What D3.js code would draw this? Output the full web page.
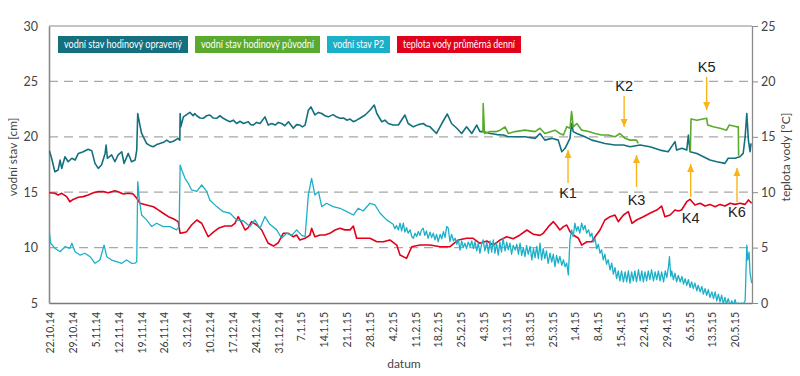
<!DOCTYPE html>
<html>
<head>
<meta charset="utf-8">
<script src="https://cdn.jsdelivr.net/npm/d3@7"></script>
<style>
  body { margin: 0; background: #fff; }
  svg { display: block; font-family: Lato, "Noto Sans", sans-serif; }
</style>
</head>
<body>
<svg id="chart"></svg>
<script>
// day offsets are counted from 22.10.2014
const startDate = Date.UTC(2014, 9, 22);
const xDomainDays = [-0.3, 215.2];
const tickEndDay = 210;
const leftTicks = [5, 10, 15, 20, 25, 30];
const rightTicks = [0, 5, 10, 15, 20, 25];
const gridTicks = [10, 15, 20, 25];

const legendNames = ['vodní stav hodinový opravený', 'vodní stav hodinový původní', 'vodní stav P2', 'teplota vody průměrná denní'];
const legendColors = ['#14707f', '#5aab2d', '#1bb0c8', '#e2001a'];

// vodní stav hodinový opravený [cm]
const opravenyData = [
  [-0.2,18.75],[0.5,18.06],[1.5,16.85],[2.5,17.0],[3.1,17.9],[3.6,17.15],[4.6,18.2],[5.6,17.75],[6.7,18.06],[7.7,17.9],
  [8.7,18.5],[10.2,18.65],[11.7,18.87],[12.8,18.75],[13.8,17.6],[14.8,17.15],[15.8,17.45],[16.9,18.5],[17.2,19.26],[17.6,18.06],
  [18.9,18.36],[19.9,17.75],[20.9,18.36],[22.0,18.65],[22.7,17.6],[24.0,18.5],[25.0,17.75],[26.1,17.9],[26.6,18.8],[26.9,22.1],
  [27.6,21.0],[28.1,20.3],[29.6,19.4],[30.7,19.2],[31.7,19.1],[32.7,19.3],[33.7,19.4],[34.8,19.5],[35.8,19.7],[36.8,19.5],[37.8,19.6],[39.3,19.86],[39.8,19.7],
  [39.9,22.1],[40.1,20.9],[40.9,21.8],[41.9,22.0],[42.9,22.2],[43.9,21.9],[44.4,22.1],[45.0,21.9],[46.0,21.7],[47.0,21.67],[48.0,21.9],[49.0,21.97],[50.0,21.7],[51.1,21.67],[52.1,21.9],[53.1,21.67],[54.2,21.5],[55.2,21.36],
  [56.2,21.5],[57.2,21.2],[58.3,21.4],[59.3,21.2],[60.8,21.36],[61.5,21.1],[62.3,21.06],[63.3,21.3],[64.4,21.2],[65.9,21.8],[66.9,21.06],[68.0,21.2],[69.0,21.06],[70.0,21.3],[71.0,21.2],[72.0,21.0],[73.1,21.36],
  [74.6,20.77],[75.6,21.1],[76.6,21.06],[77.4,20.9],[78.2,21.06],[79.2,22.4],[80.0,22.7],[81.2,21.97],[82.3,22.2],[83.3,22.1],[84.3,21.9],[85.3,21.8],[86.8,22.0],[87.8,21.8],[88.9,21.67],
  [90.0,21.7],[91.0,21.5],[92.0,21.6],[93.0,21.36],[94.0,21.5],[95.0,21.67],[96.6,21.97],[98.1,22.4],[99.4,22.87],[100.2,22.1],[101.7,21.36],[102.7,21.5],[103.7,21.2],[105.2,21.06],
  [106.8,21.06],[108.8,21.97],[109.8,21.2],[111.4,20.9],[112.9,21.1],[114.4,21.2],[115.4,21.0],[116.5,20.9],[118.5,20.3],[120.1,21.2],[121.8,22.06],[123.1,21.2],
  [124.7,20.77],[126.2,20.3],[127.7,20.9],[129.3,20.3],[130.8,21.06],[131.8,20.47],[132.8,20.47],[134.9,20.3],[137.0,20.2],[139.0,20.16],[140.5,20.0],
  [142.6,20.0],[145.6,20.0],[148.7,19.86],[150.2,20.3],[151.7,19.7],[153.8,19.86],[155.8,19.7],[156.9,18.65],[157.9,18.96],[159.4,19.86],
  [159.9,21.2],[160.4,20.47],[161.5,20.3],[164.0,20.0],[166.1,19.7],[168.1,19.56],[170.1,19.4],[173.2,19.26],[175.8,19.26],[177.8,19.1],
  [180.9,19.26],[183.9,19.1],[187.0,18.8],[189.5,18.65],[191.6,19.56],[192.1,18.8],[193.7,18.96],[195.2,18.8],[195.7,20.16],[196.2,18.65],
  [198.3,18.5],[200.3,18.2],[202.3,17.9],[204.4,17.75],[206.9,17.6],[207.9,18.06],[210.0,18.06],[211.5,18.2],[212.5,18.5],[213.1,20.0],
  [213.6,22.1],[214.1,19.7],[214.6,18.65],[214.9,19.4]
];

// vodní stav hodinový původní [cm], null = přerušení
const puvodniData = [
  [132.7,20.4],[132.8,23.0],[133.2,20.3],[134.9,20.47],[136.9,20.47],[138.0,20.6],[139.5,20.9],[140.5,20.3],[142.6,20.47],[145.6,20.6],
  [148.7,20.47],[150.2,20.77],[151.7,20.3],[154.8,20.6],[156.3,20.3],[157.4,20.16],[158.4,20.9],[159.4,20.77],[159.9,22.27],[160.4,20.9],
  [161.5,21.2],[163.0,20.6],[165.1,20.47],[167.1,20.3],[169.1,20.16],[171.1,20.16],[173.2,20.0],[174.7,20.3],[176.3,19.86],[177.8,19.7],
  [179.8,19.7],[180.3,19.4],[180.4,null],
  [196.3,18.7],[196.5,21.6],[198.3,21.5],[201.3,21.67],[201.6,21.06],[203.3,20.9],[205.4,20.77],[207.4,20.6],[208.2,21.06],[210.5,20.9],
  [211.0,20.9],[211.1,18.3]
];

// vodní stav P2 [cm]
const p2Data = [
  [-0.2,11.44],[0.2,10.4],[1.5,9.94],[3.1,9.63],[4.6,10.08],[6.1,9.94],[6.7,10.4],[7.7,9.63],[9.2,9.33],[10.7,9.49],
  [12.3,9.18],[13.8,8.58],[15.3,8.88],[16.6,10.23],[17.4,9.18],[18.9,8.88],[20.4,8.73],[22.0,8.58],[23.5,8.88],[25.0,8.58],
  [26.1,8.6],[26.6,8.73],[26.9,15.95],[27.4,14.3],[28.1,12.94],[29.6,12.5],[31.2,11.9],[32.7,12.2],[34.7,11.9],[36.8,11.9],
  [38.8,11.6],[39.6,11.9],[39.9,17.45],[40.4,17.0],[41.4,16.25],[42.4,15.8],[43.4,15.2],[45.0,15.07],[46.5,15.65],[48.0,15.1],
  [49.0,14.3],[51.1,13.7],[53.1,13.24],[55.2,13.1],[57.2,12.5],[59.3,12.4],[61.3,11.9],[62.8,12.5],[64.4,11.74],[65.9,12.8],
  [67.4,12.1],[69.5,11.6],[71.0,10.84],[72.6,11.3],[74.1,11.1],[75.6,11.6],[77.2,11.1],[78.2,10.98],[79.2,14.75],[80.2,16.25],
  [81.2,14.75],[82.3,15.05],[83.3,13.7],[84.8,14.0],[86.8,13.7],[88.9,13.55],[91.0,13.24],[93.0,12.94],[94.5,13.55],[96.0,13.3],
  [98.1,14.0],[99.6,13.85],[101.2,13.1],[103.2,12.5],[105.2,12.1],[105.7,11.7],[106.2,12.0],[106.8,11.6],[107.3,12.2],[107.8,11.5],
  [108.3,12.2],[108.8,11.4],[109.3,11.8],[109.8,11.3],[110.4,11.6],[110.9,11.0],[111.4,10.84],[111.9,11.3],[112.4,11.0],[112.9,11.45],
  [113.4,11.1],[113.9,11.6],[114.4,11.75],[114.9,11.1],[115.4,11.5],[115.9,10.84],[116.5,11.4],[117.0,10.9],[117.5,11.3],[118.0,10.7],
  [118.5,11.2],[119.0,10.53],[119.6,11.2],[120.1,10.8],[120.6,11.45],[121.1,10.9],[121.6,11.9],[122.1,11.75],[122.6,10.53],[123.1,11.2],
  [123.7,10.6],[124.2,10.84],[124.7,10.3],[125.2,10.7],[125.7,9.78],[126.2,10.6],[126.7,10.0],[127.2,10.4],[127.7,9.9],[128.2,10.5],
  [128.8,10.1],[129.3,10.6],[129.8,9.9],[130.3,10.53],[130.8,9.7],[131.3,10.4],[131.8,9.49],[132.3,10.3],[132.8,10.7],[133.3,9.7],
  [133.9,10.5],[134.4,9.49],[134.9,10.6],[135.4,9.6],[135.9,10.7],[136.4,9.5],[136.9,10.4],[137.4,9.33],[137.9,10.5],[138.4,9.6],
  [138.9,10.84],[139.5,9.7],[140.0,10.5],[140.5,9.8],[141.0,10.4],[141.5,9.4],[142.0,10.2],[142.6,9.78],[143.1,10.3],[143.6,9.4],
  [144.1,10.4],[144.6,9.3],[145.1,10.0],[145.6,9.18],[146.1,10.2],[146.6,9.4],[147.2,10.1],[147.7,8.88],[148.2,9.9],[148.7,9.1],
  [149.2,10.1],[149.7,9.0],[150.2,10.4],[150.7,8.88],[151.2,9.9],[151.7,9.0],[152.2,9.7],[152.7,8.58],[153.3,9.5],[153.8,8.7],
  [154.3,9.4],[154.8,8.28],[155.3,9.3],[155.8,8.6],[156.3,9.2],[156.9,8.4],[157.4,8.9],[157.9,8.28],[158.4,8.6],[158.9,7.53],
  [159.4,10.7],[159.9,11.6],[160.4,11.0],[160.9,12.2],[161.4,11.5],[161.9,11.9],[162.4,11.3],[163.0,12.2],[163.5,11.6],[164.0,12.0],
  [164.5,11.3],[165.1,11.6],[165.6,11.0],[166.1,11.3],[166.6,10.5],[167.1,10.8],[167.6,9.9],[168.1,10.3],[168.6,9.5],[169.1,9.8],
  [169.6,8.9],[170.1,9.4],[170.6,8.5],[171.1,8.9],[171.7,8.0],[172.2,8.6],[172.7,7.6],[173.2,8.2],[173.7,7.2],[174.2,7.9],
  [174.7,7.0],[175.2,7.9],[175.8,6.9],[176.3,7.8],[176.8,6.9],[177.3,7.9],[177.8,6.8],[178.3,7.8],[178.8,7.0],[179.3,7.9],
  [179.8,6.9],[180.4,8.0],[180.9,7.0],[181.4,7.9],[181.9,6.9],[182.4,7.8],[182.9,7.0],[183.4,7.9],[183.9,7.1],[184.4,8.0],
  [185.0,7.0],[185.5,7.8],[186.0,7.1],[186.5,7.9],[187.0,7.0],[187.5,7.8],[188.1,6.9],[188.6,7.9],[189.1,7.3],[189.6,8.3],
  [189.9,9.18],[190.3,7.4],[190.6,7.9],[191.1,7.1],[191.6,7.7],[192.1,6.9],[192.6,7.5],[193.2,6.9],[193.7,7.4],[194.2,6.7],
  [194.7,7.2],[195.2,6.6],[195.7,7.1],[196.2,6.4],[196.7,6.9],[197.2,6.3],[197.7,6.8],[198.3,6.1],[198.7,6.6],[199.3,6.0],
  [199.8,6.5],[200.3,5.8],[200.8,6.3],[201.3,5.7],[201.8,6.2],[202.3,5.5],[202.9,6.0],[203.4,5.4],[203.9,6.0],[204.4,5.2],
  [204.9,5.8],[205.4,5.1],[205.9,5.7],[206.4,4.9],[206.9,5.5],[207.4,4.9],[207.9,5.4],[208.5,4.8],[209.0,5.2],[209.5,4.8],
  [210.0,5.3],[210.5,4.8],[211.0,5.0],[211.5,4.8],[212.0,5.0],[212.5,4.9],[213.1,5.2],[213.6,10.23],[213.9,8.88],[214.3,9.6],
  [214.6,7.7],[215.1,6.8]
];

// teplota vody průměrná denní [°C]
const teplotaData = [
  [-0.2,9.95],[1.5,9.9],[2.5,9.75],[3.6,9.9],[5.1,9.6],[6.1,9.14],[7.1,9.35],[8.7,9.54],[10.2,9.6],[11.7,9.75],
  [13.3,9.95],[14.8,10.05],[16.3,10.05],[17.9,9.95],[19.9,10.14],[20.9,10.05],[22.5,9.84],[24.0,9.9],[25.5,9.84],[26.6,9.45],
  [27.6,9.0],[29.6,8.85],[31.7,8.69],[33.2,8.4],[34.7,8.1],[36.3,7.79],[37.8,7.6],[39.3,7.34],[39.9,6.29],[40.9,6.35],
  [41.9,6.44],[43.4,7.04],[45.0,7.49],[46.5,7.2],[47.5,6.59],[48.5,5.98],[50.1,6.4],[51.6,6.74],[53.6,6.95],[55.7,6.95],
  [56.7,7.19],[57.7,7.79],[58.8,7.2],[59.8,6.59],[60.8,6.8],[61.8,7.34],[63.4,7.04],[64.9,6.59],[65.9,5.98],[66.9,5.39],
  [68.5,5.14],[70.0,5.44],[71.5,6.29],[73.1,6.29],[74.6,5.98],[75.6,6.14],[76.6,5.69],[78.2,5.84],[79.7,6.14],[80.2,6.74],
  [81.2,5.98],[82.8,6.14],[84.3,6.14],[85.8,6.29],[87.4,6.59],[88.9,6.74],[90.4,6.6],[92.0,6.6],[93.0,6.95],[94.0,5.84],
  [96.0,5.84],[98.1,5.84],[100.2,5.53],[102.2,5.53],[104.2,5.69],[106.3,5.23],[107.3,4.33],[109.3,4.03],[110.9,5.08],[113.4,5.23],
  [116.5,5.23],[119.6,5.08],[122.6,5.08],[125.2,5.69],[127.7,5.84],[129.7,5.84],[131.8,5.39],[133.9,5.6],[135.9,5.23],[138.0,5.69],
  [140.0,5.98],[142.0,5.8],[144.1,6.14],[146.2,6.59],[148.2,6.2],[150.2,6.1],[151.2,6.29],[152.8,6.89],[154.3,7.34],[155.3,7.0],
  [156.3,6.59],[157.4,6.89],[158.4,7.04],[159.4,6.44],[160.4,6.14],[162.0,5.84],[163.0,5.23],[164.6,5.53],[166.1,5.53],[167.1,5.98],
  [168.6,6.59],[170.1,7.49],[171.7,7.79],[173.2,7.94],[174.2,7.34],[175.8,7.94],[177.3,8.24],[178.4,7.19],[179.8,7.49],[181.9,7.79],
  [183.9,8.1],[186.0,8.39],[187.5,8.75],[188.5,7.79],[190.1,7.94],[191.6,8.39],[192.6,8.3],[193.6,8.39],[195.2,9.14],[196.2,9.36],
  [197.7,8.85],[199.3,9.0],[200.8,8.75],[202.3,8.9],[203.9,8.69],[205.4,8.9],[206.9,8.75],[208.5,9.0],[210.0,8.9],[211.5,9.0],
  [213.1,8.9],[214.1,9.3],[215.1,9.0]
];

// anotace K1..K6: den, hrot šipky, konec šipky, účaří popisku (vše v cm levé osy)
const annoLabels = ['K1', 'K2', 'K3', 'K4', 'K5', 'K6'];
const annoDays = [158.8, 176.0, 179.8, 196.4, 201.3, 210.6];
const annoTip = [18.8, 20.88, 18.36, 17.55, 22.42, 17.18];
const annoTail = [15.83, 23.68, 15.47, 14.57, 25.4, 14.12];
const annoText = [14.48, 24.16, 13.84, 12.22, 25.85, 12.79];

const W = 800, H = 376;
const margin = { top: 26, right: 48, bottom: 73, left: 49 };
const innerW = W - margin.left - margin.right;
const innerH = H - margin.top - margin.bottom;

const toDate = d => new Date(startDate + d * 86400000);

const svg = d3.select('#chart').attr('width', W).attr('height', H);
const chart = svg.append('g').attr('transform', `translate(${margin.left},${margin.top})`);

const x = d3.scaleUtc().domain(xDomainDays.map(toDate)).range([0, innerW]);
const yLeft = d3.scaleLinear().domain([5, 30]).range([innerH, 0]);
const yRight = d3.scaleLinear().domain([0, 25]).range([innerH, 0]);

// mřížka
chart.append('g').selectAll('line')
  .data(gridTicks)
  .join('line')
  .attr('x1', 0).attr('x2', innerW)
  .attr('y1', d => yLeft(d)).attr('y2', d => yLeft(d))
  .attr('stroke', '#a8a8a8')
  .attr('stroke-width', 1.2)
  .attr('stroke-dasharray', '9,6');

// horní rámeček
chart.append('line')
  .attr('x1', 0).attr('x2', innerW).attr('y1', 0).attr('y2', 0)
  .attr('stroke', '#8a8a8a').attr('stroke-width', 1);

// osy
const weekTicks = d3.range(0, tickEndDay + 1, 7).map(toDate);

const xAxisG = chart.append('g')
  .attr('transform', `translate(0,${innerH})`)
  .call(d3.axisBottom(x).tickValues(weekTicks).tickSize(0).tickFormat(d3.utcFormat('%-d.%-m.%y')));
xAxisG.select('.domain').attr('stroke', '#7a7a7a').attr('stroke-width', 1.3);
xAxisG.selectAll('text')
  .attr('transform', 'rotate(-90)')
  .attr('x', -9).attr('y', 0).attr('dy', '0.35em')
  .attr('text-anchor', 'end')
  .attr('fill', '#3a3a3a')
  .style('font-size', '10.5px')
  .style('font-family', 'Lato, sans-serif');

const yLeftG = chart.append('g')
  .call(d3.axisLeft(yLeft).tickValues(leftTicks).tickSize(0).tickPadding(11));
yLeftG.select('.domain').attr('stroke', '#8a8a8a').attr('stroke-width', 1.6);
yLeftG.selectAll('text').attr('fill', '#444').style('font-size', '12.5px').style('font-family', 'Lato, sans-serif');

const yRightG = chart.append('g')
  .attr('transform', `translate(${innerW},0)`)
  .call(d3.axisRight(yRight).tickValues(rightTicks).tickSizeInner(6).tickSizeOuter(0).tickPadding(3));
yRightG.select('.domain').attr('stroke', '#8a8a8a').attr('stroke-width', 1.3);
yRightG.selectAll('line').attr('stroke', '#8a8a8a');
yRightG.selectAll('text').attr('fill', '#444').style('font-size', '12.5px').style('font-family', 'Lato, sans-serif');

// popisky os
svg.append('text')
  .attr('transform', 'translate(17,157) rotate(-90)')
  .attr('text-anchor', 'middle')
  .attr('fill', '#444')
  .style('font-size', '12px')
  .text('vodní stav [cm]');

svg.append('text')
  .attr('transform', 'translate(790,157) rotate(-90)')
  .attr('text-anchor', 'middle')
  .attr('fill', '#444')
  .style('font-size', '12px')
  .text('teplota vody [°C]');

svg.append('text')
  .attr('x', 404).attr('y', 368)
  .attr('text-anchor', 'middle')
  .attr('fill', '#444')
  .style('font-size', '12px')
  .text('datum');

// řady
svg.append('defs').append('clipPath').attr('id', 'plot-clip')
  .append('rect').attr('x', 0).attr('y', 0).attr('width', innerW).attr('height', innerH);

const plot = chart.append('g').attr('clip-path', 'url(#plot-clip)');

const lineLeft = d3.line()
  .defined(d => d[1] !== null)
  .x(d => x(toDate(d[0])))
  .y(d => yLeft(d[1]));

const lineRight = d3.line()
  .x(d => x(toDate(d[0])))
  .y(d => yRight(d[1]));

plot.append('path').datum(opravenyData)
  .attr('d', lineLeft).attr('fill', 'none')
  .attr('stroke', legendColors[0]).attr('stroke-width', 1.6).attr('stroke-linejoin', 'round');

plot.append('path').datum(puvodniData)
  .attr('d', lineLeft).attr('fill', 'none')
  .attr('stroke', legendColors[1]).attr('stroke-width', 1.6).attr('stroke-linejoin', 'round');

plot.append('path').datum(teplotaData)
  .attr('d', lineRight).attr('fill', 'none')
  .attr('stroke', legendColors[3]).attr('stroke-width', 1.6).attr('stroke-linejoin', 'round');

plot.append('path').datum(p2Data)
  .attr('d', lineLeft).attr('fill', 'none')
  .attr('stroke', legendColors[2]).attr('stroke-width', 1.3).attr('stroke-linejoin', 'round');

// legenda
const legendX = [58, 195, 327, 397];
const legendW = [130, 125, 63, 124];
const legend = svg.append('g');
legendNames.forEach((name, i) => {
  legend.append('rect')
    .attr('x', legendX[i]).attr('y', 36)
    .attr('width', legendW[i]).attr('height', 17)
    .attr('fill', legendColors[i]);
  legend.append('text')
    .attr('x', legendX[i] + legendW[i] / 2).attr('y', 48)
    .attr('text-anchor', 'middle')
    .attr('fill', '#fff')
    .attr('textLength', legendW[i] - 12)
    .attr('lengthAdjust', 'spacingAndGlyphs')
    .style('font-size', '10.5px')
    .text(name);
});

// šipky K1..K6
svg.select('defs').append('marker')
  .attr('id', 'arrow')
  .attr('viewBox', '0 0 8 8')
  .attr('refX', 8).attr('refY', 4)
  .attr('markerWidth', 8).attr('markerHeight', 8)
  .attr('markerUnits', 'userSpaceOnUse')
  .attr('orient', 'auto')
  .append('path').attr('d', 'M0,0.5L8,4L0,7.5Z').attr('fill', '#f9b41b');

const annos = chart.append('g');
annoLabels.forEach((lab, i) => {
  const ax = x(toDate(annoDays[i]));
  annos.append('line')
    .attr('x1', ax).attr('x2', ax)
    .attr('y1', yLeft(annoTail[i])).attr('y2', yLeft(annoTip[i]))
    .attr('stroke', '#f9b41b').attr('stroke-width', 1.4)
    .attr('marker-end', 'url(#arrow)');
  annos.append('text')
    .attr('x', ax).attr('y', yLeft(annoText[i]))
    .attr('text-anchor', 'middle')
    .attr('fill', '#222')
    .style('font-size', '14.5px')
    .style('font-family', '"Liberation Sans", Arial, sans-serif')
    .text(lab);
});
</script>
</body>
</html>
